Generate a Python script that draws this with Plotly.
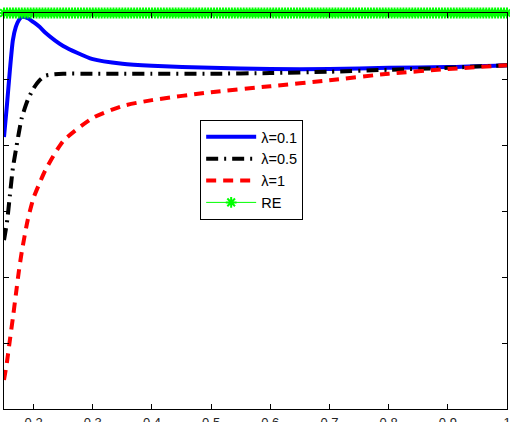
import numpy as np
import plotly.graph_objects as go

# sample positions (x) shared by the three λ curves
x_vals = [0.15, 0.155, 0.16, 0.165, 0.17, 0.175, 0.18, 0.19, 0.2, 0.21, 0.22,
          0.25, 0.3, 0.35, 0.4, 0.5, 0.6, 0.7, 0.8, 0.9, 1.0]

lam01 = [0.812, 0.861, 0.914, 0.959, 0.979, 0.989, 0.994, 0.992, 0.986, 0.979, 0.970,
         0.950, 0.930, 0.923, 0.920, 0.917, 0.915, 0.915, 0.917, 0.918, 0.921]
lam05 = [0.656, 0.683, 0.724, 0.765, 0.792, 0.818, 0.841, 0.868, 0.886, 0.898, 0.905,
         0.908, 0.908, 0.908, 0.908, 0.908, 0.909, 0.911, 0.914, 0.917, 0.921]
lam1 = [0.444, 0.471, 0.505, 0.538, 0.573, 0.608, 0.638, 0.686, 0.720, 0.742, 0.762,
        0.806, 0.841, 0.859, 0.868, 0.880, 0.889, 0.898, 0.908, 0.915, 0.921]

re_value = 1.0
re_x = np.linspace(0.15, 1.0, 171)
re_y = [re_value] * len(re_x)

x_range = [0.15, 1.0]
x_ticks = [0.2, 0.3, 0.4, 0.5, 0.6, 0.7, 0.8, 0.9, 1.0]
x_ticktext = ["0.2", "0.3", "0.4", "0.5", "0.6", "0.7", "0.8", "0.9", "1"]
y_ticks = [0.4, 0.5, 0.6, 0.7, 0.8, 0.9, 1.0]

fig = go.Figure()
fig.add_trace(go.Scatter(x=x_vals, y=lam01, mode="lines", name="λ=0.1",
                         line=dict(color="#0000ff", width=4, shape="spline", smoothing=0.6)))
fig.add_trace(go.Scatter(x=x_vals, y=lam05, mode="lines", name="λ=0.5",
                         line=dict(color="#000000", width=4, shape="spline", smoothing=0.6,
                                   dash="12px,6px,2px,6px")))
fig.add_trace(go.Scatter(x=x_vals, y=lam1, mode="lines", name="λ=1",
                         line=dict(color="#ff0000", width=4, shape="spline", smoothing=0.6,
                                   dash="10px,7px")))
fig.add_trace(go.Scatter(x=re_x, y=re_y, mode="lines+markers", name="RE", cliponaxis=False,
                         line=dict(color="#00ff00", width=1),
                         marker=dict(symbol="asterisk-open", size=9,
                                     line=dict(color="#00ff00", width=2), color="#00ff00")))
# invisible trace to carry the overlay axis with inside ticks
fig.add_trace(go.Scatter(x=[x_range[0]], y=[y_ticks[0]], xaxis="x2", mode="markers",
                         marker=dict(opacity=0), showlegend=False, hoverinfo="skip"))

fig.update_layout(
    width=510, height=422,
    margin=dict(l=4, r=3, t=13, b=13, autoexpand=False),
    paper_bgcolor="white", plot_bgcolor="white",
    font=dict(family="Liberation Sans, Arial, sans-serif", size=12, color="#222"),
    showlegend=True,
    legend=dict(x=0.39, y=0.73, xanchor="left", yanchor="top",
                bgcolor="white", bordercolor="#000", borderwidth=1,
                itemwidth=50,
                font=dict(size=14.5, family="Liberation Sans, Arial, sans-serif", color="#000")),
    xaxis=dict(range=x_range, tickvals=x_ticks, ticktext=x_ticktext, automargin=False,
               ticks="outside", ticklen=1, tickcolor="rgba(0,0,0,0)",
               ticklabeloverflow="allow",
               showline=True, linecolor="#000", linewidth=1, mirror=True,
               showgrid=False, zeroline=False, tickfont=dict(size=13)),
    xaxis2=dict(range=x_range, tickvals=x_ticks, overlaying="x", side="bottom",
                automargin=False,
                ticks="inside", ticklen=5, tickcolor="#000", showticklabels=False,
                showline=False, mirror="ticks", showgrid=False, zeroline=False),
    yaxis=dict(range=[0.4, 1.0], tickvals=y_ticks, showticklabels=False, automargin=False,
               ticks="inside", ticklen=5, tickcolor="#000",
               showline=True, linecolor="#000", linewidth=1, mirror="ticks",
               showgrid=False, zeroline=False),
)

fig.write_html("out.html")
